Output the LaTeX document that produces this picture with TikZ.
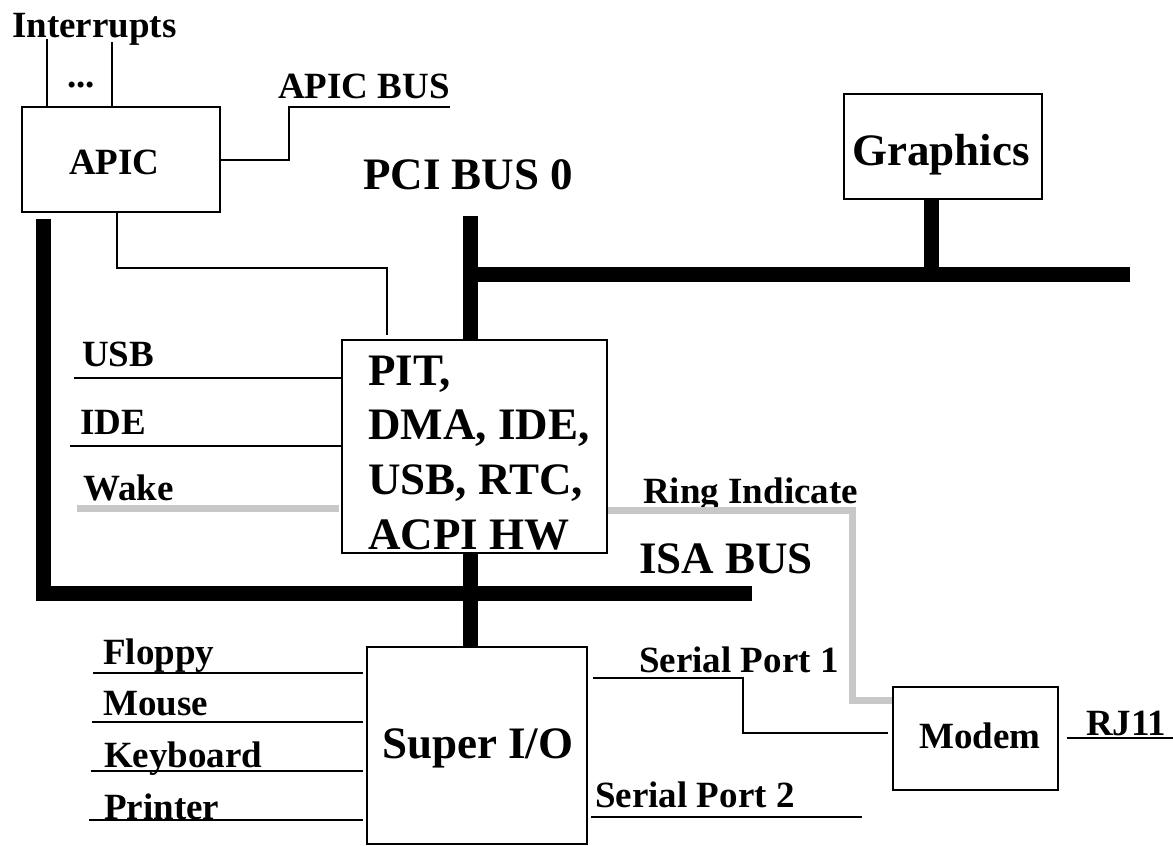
\documentclass[tikz,border=0pt]{standalone}
\usepackage{fontspec}
\setmainfont{Liberation Serif}
\newcommand\fsmall{\fontsize{37}{44}\selectfont\bfseries}
\newcommand\fbig{\fontsize{45}{54}\selectfont\bfseries}
\definecolor{ringgray}{RGB}{200,200,200}
\begin{document}
\begin{tikzpicture}[x=1pt,y=-1pt,
  box/.style={draw, line width=2, inner sep=0, fill=none},
  lbl/.style={anchor=base west, inner sep=0, font=\fsmall},
  big/.style={anchor=base west, inner sep=0, font=\fbig},
  wire/.style={line width=2},
  bus/.style={line width=15, line join=miter, line cap=butt},
  ring/.style={line width=7, draw=ringgray, line join=miter}]
\useasboundingbox (0,0) rectangle (1173,846);

% boxes
\node[box, minimum width=198, minimum height=105] (apic) at (121,159.5) {};
\node[box, minimum width=198, minimum height=105] (graphics) at (943,146.5) {};
\node[box, minimum width=265, minimum height=213] (pit) at (474.5,446.5) {};
\node[box, minimum width=220, minimum height=197] (superio) at (477,745.5) {};
\node[box, minimum width=165, minimum height=103] (modem) at (975.5,738.5) {};

% texts
\node[lbl] (tint) at (12,37) {Interrupts};
\node[lbl] (tdots) at (67,87) {...};
\node[lbl] (tapicbus) at (278,98) {APIC BUS};
\node[lbl] (tapic) at (69,174) {APIC};
\node[big] (tpci) at (363,189) {PCI BUS 0};
\node[big] (tgraphics) at (852,165) {Graphics};
\node[big] (tpit1) at (368,385) {PIT,};
\node[big] (tpit2) at (368,439) {DMA, IDE,};
\node[big] (tpit3) at (368,494) {USB, RTC,};
\node[big] (tpit4) at (368,549) {ACPI HW};
\node[lbl] (tusb) at (82,366) {USB};
\node[lbl] (tide) at (80,434) {IDE};
\node[lbl] (twake) at (83,500) {Wake};
\node[lbl] (tring) at (643,503) {Ring Indicate};
\node[big] (tisa) at (639,573) {ISA BUS};
\node[lbl] (tfloppy) at (103,664) {Floppy};
\node[lbl] (tmouse) at (103,715) {Mouse};
\node[lbl] (tkbd) at (104,767) {Keyboard};
\node[lbl] (tprinter) at (104,819) {Printer};
\node[big] (tsuper) at (382,758) {Super I/O};
\node[lbl] (tsp1) at (639,672) {Serial Port 1};
\node[lbl] (tsp2) at (595,807) {Serial Port 2};
\node[lbl] (tmodem) at (919,748) {Modem};
\node[lbl] (trj) at (1086,735) {RJ11};

% coordinates
\coordinate (int1) at (46.7,39);
\coordinate (int2) at (112,42);
\coordinate (ab1) at (289,107);
\coordinate (ab2) at (450,107);
\coordinate (ap1) at (387,268);
\coordinate (ap2) at (387,335);
\coordinate (usbL) at (74,378);
\coordinate (ideL) at (70,446);
\coordinate (wakeL) at (77,508);
\coordinate (rc) at (852,510);
\coordinate (rm) at (852,700);
\coordinate (flL) at (93,673);
\coordinate (moL) at (92,722);
\coordinate (kbL) at (91,771);
\coordinate (prL) at (89,820);
\coordinate (s1a) at (593,678);
\coordinate (s1b) at (743,678);
\coordinate (s1c) at (743,733);
\coordinate (s1d) at (888,733);
\coordinate (s2a) at (591,817);
\coordinate (s2b) at (862,817);
\coordinate (rja) at (1067,738);
\coordinate (rjb) at (1173,738);
\coordinate (pciTop) at (470.5,216);
\coordinate (pciJ) at (470.5,274);
\coordinate (pciR) at (1130,274);
\coordinate (gstem) at (931,199);
\coordinate (isaTop) at (43.5,219);
\coordinate (isaC) at (43.5,593.5);
\coordinate (isaR) at (752,593.5);
\coordinate (isaS) at (470.5,593.5);

% thin wires
\draw[wire] (int1) -- (int1 |- apic.north);
\draw[wire] (int2) -- (int2 |- apic.north);
\draw[wire] (apic.east) -| (ab1) -- (ab2);
\draw[wire] ([xshift=-4pt]apic.south) |- (ap1) -- (ap2);
\draw[wire] (usbL) -- (usbL -| pit.west);
\draw[wire] (ideL) -- (ideL -| pit.west);
\draw[wire] (flL) -- ([xshift=-3pt]flL -| superio.west);
\draw[wire] (moL) -- ([xshift=-3pt]moL -| superio.west);
\draw[wire] (kbL) -- ([xshift=-3pt]kbL -| superio.west);
\draw[wire] (prL) -- ([xshift=-3pt]prL -| superio.west);
\draw[wire] (s1a) -- (s1b) -- (s1c) -- (s1d);
\draw[wire] (s2a) -- (s2b);
\draw[wire] (rja) -- (rjb);

% gray signal lines
\draw[ring] (wakeL) -- ([xshift=-2pt]wakeL -| pit.west);
\draw[ring] (rc -| pit.east) -- (rc) -- (rm) -- (rm -| modem.west);

% buses
\draw[bus] (pciTop) -- (pciTop |- pit.north);
\draw[bus] (pciJ) -- (pciR);
\draw[bus] (gstem) -- (gstem |- pciR);
\draw[bus] (isaTop) -- (isaC) -- (isaR);
\draw[bus] (isaS |- pit.south) -- (isaS |- superio.north);
\end{tikzpicture}
\end{document}
